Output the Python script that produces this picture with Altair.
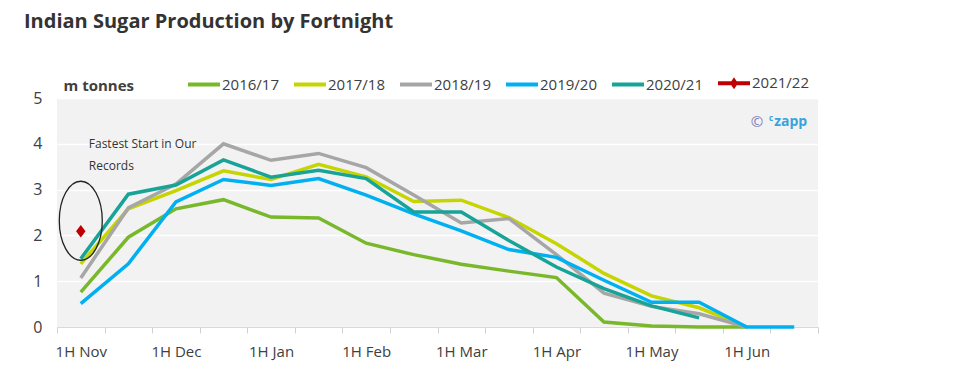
import altair as alt
import pandas as pd

periods = ["1H Nov", "2H Nov", "1H Dec", "2H Dec", "1H Jan", "2H Jan", "1H Feb", "2H Feb",
           "1H Mar", "2H Mar", "1H Apr", "2H Apr", "1H May", "2H May", "1H Jun", "2H Jun"]
seasons = ["2016/17", "2017/18", "2018/19", "2019/20", "2020/21", "2021/22"]
colors = ["#78b82a", "#c6d400", "#a6a6a6", "#00b0f0", "#17a398", "#c00000"]

s2016_17 = [0.76, 1.96, 2.58, 2.78, 2.40, 2.38, 1.83, 1.58, 1.37, 1.22, 1.08, 0.11, 0.02, 0.0, 0.0, None]
s2017_18 = [1.38, 2.58, 2.98, 3.41, 3.22, 3.55, 3.28, 2.74, 2.77, 2.39, 1.82, 1.17, 0.68, 0.42, 0.0, None]
s2018_19 = [1.07, 2.60, 3.12, 4.00, 3.64, 3.79, 3.48, 2.88, 2.27, 2.37, 1.58, 0.74, 0.45, 0.29, 0.0, None]
s2019_20 = [0.51, 1.38, 2.73, 3.22, 3.09, 3.24, 2.88, 2.47, 2.10, 1.69, 1.52, 1.02, 0.54, 0.54, 0.0, 0.0]
s2020_21 = [1.49, 2.90, 3.10, 3.65, 3.27, 3.42, 3.24, 2.51, 2.51, 1.89, 1.31, 0.84, 0.46, 0.20, None, None]
s2021_22 = [2.09, None, None, None, None, None, None, None, None, None, None, None, None, None, None, None]

series = [s2016_17, s2017_18, s2018_19, s2019_20, s2020_21, s2021_22]

rows = []
for name, vals in zip(seasons, series):
    for p, v in zip(periods, vals):
        if v is not None:
            rows.append({"period": p, "season": name, "value": v})
df = pd.DataFrame(rows)

# annotations (anchored in data space)
note_text = ["Fastest Start in Our", "Records"]
note_period = ["1H Nov", "1H Nov"]
note_value = [3.99, 3.51]
ellipse_period = ["1H Nov"]
ellipse_value = [2.32]
mark_period = ["2H Jun"]
mark_value = [4.47]

notes = pd.DataFrame({"text": note_text, "period": note_period, "value": note_value})
ell = pd.DataFrame({"period": ellipse_period, "value": ellipse_value})
wm = pd.DataFrame({"period": mark_period, "value": mark_value})

FONT = "Open Sans"
LINE_PATH = "M-1,0L1,0"
DIAMOND_LINE_PATH = "M-1,0L1,0M0,-0.15L0.1,0L0,0.15L-0.1,0Z"
legend_shapes = [LINE_PATH] * 5 + [DIAMOND_LINE_PATH]

x_enc = alt.X(
    "period:N", sort=periods, bandPosition=0.5,
    scale=alt.Scale(type="band", domain=periods, paddingInner=0, paddingOuter=0),
    axis=alt.Axis(
        title=None, tickBand="extent", labelAngle=0, labelOverlap=False,
        labelExpr="indexof(datum.label, '1H') == 0 ? datum.label : ''",
        labelFontSize=15, labelColor="#404040", labelFont=FONT, labelPadding=11,
        tickColor="#d0d0d0", tickSize=6, domainColor="#d9d9d9", grid=False,
    ),
)
y_enc = alt.Y(
    "value:Q",
    scale=alt.Scale(domain=[0, 5], nice=False),
    axis=alt.Axis(
        values=[0, 1, 2, 3, 4, 5], grid=True, gridColor="#ffffff", gridWidth=1.5,
        domain=False, ticks=False, labelFontSize=16, labelColor="#404040", labelFont=FONT,
        labelPadding=15,
        title="m tonnes", titleAngle=0, titleAlign="left", titleBaseline="middle",
        titleX=6, titleY=-13, titleFontSize=15, titleFontWeight="bold",
        titleColor="#404040", titleFont=FONT,
    ),
)

legend = alt.Legend(
    orient="none", legendX=129, legendY=-33, direction="horizontal", title=None,
    symbolSize=1024, symbolStrokeWidth=4,
    labelFontSize=15, labelColor="#404040", labelFont=FONT, labelOffset=0, columnPadding=7,
)

color_scale = alt.Scale(domain=seasons, range=colors)

lines = alt.Chart(df).mark_line(strokeWidth=3.5).encode(
    x=x_enc, y=y_enc,
    color=alt.Color("season:N", scale=color_scale, legend=None),
    order=alt.Order("season:N"),
)

# legend-only layer (draws no marks)
legend_layer = alt.Chart(df).transform_filter("false").mark_point(
    filled=False, strokeWidth=4, opacity=1
).encode(
    x=alt.X("period:N", sort=periods, bandPosition=0.5),
    y="value:Q",
    color=alt.Color("season:N", scale=color_scale, legend=legend),
    shape=alt.Shape("season:N", scale=alt.Scale(domain=seasons, range=legend_shapes), legend=legend),
)

diamond = alt.Chart(df[df["season"] == "2021/22"]).mark_point(
    shape="M0,-1L0.75,0L0,1L-0.75,0Z", filled=True, size=160, opacity=1
).encode(
    x=alt.X("period:N", sort=periods, bandPosition=0.5),
    y="value:Q",
    color=alt.Color("season:N", scale=color_scale, legend=None),
)

ellipse = alt.Chart(ell).mark_point(
    shape="M-0.544,0A0.544,1 0 1,0 0.544,0A0.544,1 0 1,0 -0.544,0",
    filled=False, stroke="#222222", strokeWidth=1.3, size=6241, opacity=1,
).encode(x=alt.X("period:N", sort=periods, bandPosition=0.5), y="value:Q")

note = alt.Chart(notes).mark_text(
    align="left", baseline="middle", dx=8, font=FONT, fontSize=12, color="#333333"
).encode(x=alt.X("period:N", sort=periods, bandPosition=0.5), y="value:Q", text="text:N")

wm_copy = alt.Chart(wm).mark_text(
    align="right", baseline="middle", dx=-31, font=FONT, fontSize=15, color="#7a7fb8"
).encode(x=alt.X("period:N", sort=periods, bandPosition=0.5), y="value:Q", text=alt.value("©"))

wm_c = alt.Chart(wm).mark_text(
    align="right", baseline="middle", dx=-21, dy=-3, font=FONT, fontSize=8, fontWeight="bold",
    color="#3aa3dc"
).encode(x=alt.X("period:N", sort=periods, bandPosition=0.5), y="value:Q", text=alt.value("c"))

wm_z = alt.Chart(wm).mark_text(
    align="right", baseline="middle", dx=13, font=FONT, fontSize=14, fontWeight="bold", color="#3aa3dc"
).encode(x=alt.X("period:N", sort=periods, bandPosition=0.5), y="value:Q", text=alt.value("zapp"))

chart = alt.layer(lines, legend_layer, diamond, ellipse, note, wm_copy, wm_c, wm_z).resolve_legend(
    color="independent", shape="independent"
).properties(
    width=761, height=229,
    autosize=alt.AutoSizeParams(type="none"),
    padding={"left": 49, "top": 90, "right": 130, "bottom": 45},
    title=alt.TitleParams(
        "Indian Sugar Production by Fortnight", anchor="start", frame="group", dx=-33, offset=33,
        font=FONT, fontSize=20, fontWeight="bold", color="#333333",
    ),
).configure_view(fill="#f2f2f2", strokeWidth=0)

chart.save("out.html", embed_options={"renderer": "svg", "actions": False})
